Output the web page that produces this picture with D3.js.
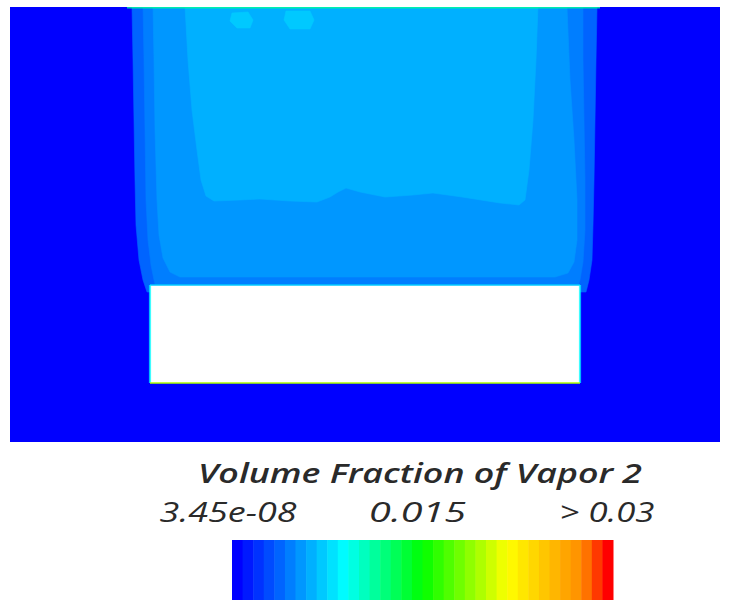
<!DOCTYPE html>
<html><head><meta charset="utf-8">
<script src="https://cdn.jsdelivr.net/npm/d3@7"></script>
<style>html,body{margin:0;padding:0;background:#fff;}svg{display:block;}</style>
</head><body>
<svg id="chart" width="753" height="600"></svg>
<script>
// ---------- data ----------
const legendTitle = "Volume Fraction of Vapor 2";
const colorDomain = [0, 0.03];                // Vapor 2 volume fraction range
const tickValues = [3.45e-8, 0.015, 0.03];
const tickLabels = ["3.45e-08", "0.015", "> 0.03"];
const nLevels = 36;

// physical field extent (mm), y upward
const fieldX = [0, 710];
const fieldY = [0, 435];
const backgroundValue = 3.45e-8;

// contour regions: boundary points [x, y] in mm, with the volume fraction inside
const plumeOuter = [[122,447],[122,435],[123,382],[124,322],[125,262],[126,217],[129,182],[133,162],[137,150],[576,150],[579,162],[582,182],[583,217],[584,262],[585,322],[586,382],[587,435],[587,447]];
const plumeOuterValue = 0.0038;
const plumeMid = [[133,447],[133,435],[134,382],[135,312],[136,242],[138,202],[141,177],[144,162],[147,150],[566,150],[570,162],[573,180],[575,212],[575,262],[574,322],[573,382],[573,435],[573,447]];
const plumeMidValue = 0.0046;
const plumeBody = [[143,447],[143,435],[144,382],[145,312],[147,242],[149,207],[153,184],[160,170],[170,165],[545,165],[558,169],[564,180],[567,202],[567,242],[564,302],[560,362],[557,435],[557,447]];
const plumeBodyValue = 0.0054;
const plumeCore = [[175,447],[175,435],[178,382],[182,332],[187,292],[191,262],[196,246],[204,241],[230,242],[250,243],[280,241],[307,240],[320,245],[328,250],[336,254],[350,250],[375,245],[403,247],[423,249],[452,245],[471,242],[490,239],[509,237],[515,242],[519,272],[523,322],[526,382],[528,435],[528,447]];
const plumeCoreValue = 0.0062;
const spotA = [[222,429],[238,430],[243,422],[240,414],[227,414],[220,421]];
const spotB = [[276,431],[300,431],[304,422],[300,413],[280,413],[274,422]];
const spotValue = 0.0071;
const inletLine = [[117,434.5],[590,434.5]];
const inletValue = 0.0114;

// solid body (not part of the fluid field)
const bodyX = [140, 570];
const bodyY = [59, 157];
const bodySideValue = 0.009;
const bodyBottomValue = 0.0195;
const bodyTopValue = 0.0075;

// ---------- layout ----------
const L = {
  plot: {x0: 10, x1: 720, y0: 7, y1: 442},
  bar: {x0: 232, x1: 613, y0: 540, y1: 600},
  labels: {x0: 228, x1: 607, y: 522, size: 27, widths: [137, 97, 95]},
  title: {x: 420, y: 483, size: 27, width: 444}
};
const FONT = "'Open Sans', 'DejaVu Sans', sans-serif";

// ---------- scales ----------
const svg = d3.select("#chart");
const x = d3.scaleLinear().domain(fieldX).range([L.plot.x0, L.plot.x1]);
const y = d3.scaleLinear().domain(fieldY).range([L.plot.y1, L.plot.y0]);

const ramp = d3.scaleLinear()
  .domain([0, 0.29, 0.5, 0.73, 0.93, 1])
  .range(["#0000ff", "#00ffff", "#00ff00", "#ffff00", "#ff8c00", "#ff0000"])
  .interpolate(d3.interpolateRgb);
const bandColors = d3.range(nLevels).map(i => ramp(i / (nLevels - 1)));
const color = d3.scaleQuantize().domain(colorDomain).range(bandColors);

svg.append("rect").attr("width", 753).attr("height", 600).attr("fill", "#ffffff");

svg.append("clipPath").attr("id", "plotclip").append("rect")
  .attr("x", x(fieldX[0])).attr("y", y(fieldY[1]))
  .attr("width", x(fieldX[1]) - x(fieldX[0])).attr("height", y(fieldY[0]) - y(fieldY[1]));

const g = svg.append("g").attr("clip-path", "url(#plotclip)");

g.append("rect")
  .attr("x", x(fieldX[0])).attr("y", y(fieldY[1]))
  .attr("width", x(fieldX[1]) - x(fieldX[0])).attr("height", y(fieldY[0]) - y(fieldY[1]))
  .attr("fill", color(backgroundValue));

const area = d3.line().x(d => x(d[0])).y(d => y(d[1])).curve(d3.curveLinearClosed);
const regions = [
  [plumeOuter, plumeOuterValue],
  [plumeMid, plumeMidValue],
  [plumeBody, plumeBodyValue],
  [plumeCore, plumeCoreValue],
  [spotA, spotValue],
  [spotB, spotValue]
];
g.selectAll("path.region").data(regions).join("path")
  .attr("class", "region")
  .attr("d", d => area(d[0]))
  .attr("fill", d => color(d[1]))
  .attr("stroke", d => color(d[1]))
  .attr("stroke-width", 0.6);

const seg = d3.line().x(d => x(d[0])).y(d => y(d[1]));
g.append("path").attr("d", seg(inletLine))
  .attr("stroke", color(inletValue)).attr("stroke-width", 2).attr("fill", "none").attr("opacity", 0.8);

// solid body
g.append("rect")
  .attr("x", x(bodyX[0])).attr("y", y(bodyY[1]))
  .attr("width", x(bodyX[1]) - x(bodyX[0])).attr("height", y(bodyY[0]) - y(bodyY[1]))
  .attr("fill", "#ffffff");
const bodyEdges = [
  [[[bodyX[0], bodyY[1]], [bodyX[1], bodyY[1]]], bodyTopValue],
  [[[bodyX[0], bodyY[0]], [bodyX[0], bodyY[1]]], bodySideValue],
  [[[bodyX[1], bodyY[0]], [bodyX[1], bodyY[1]]], bodySideValue],
  [[[bodyX[0], bodyY[0]], [bodyX[1], bodyY[0]]], bodyBottomValue]
];
g.selectAll("path.edge").data(bodyEdges).join("path")
  .attr("class", "edge")
  .attr("d", d => seg(d[0]))
  .attr("stroke", d => color(d[1]))
  .attr("stroke-width", 2.2)
  .attr("opacity", 0.75)
  .attr("fill", "none");

// ---------- legend ----------
const barX = d3.scaleLinear().domain(colorDomain).range([L.bar.x0, L.bar.x1]);
const bandEdges = d3.range(nLevels + 1).map(i => colorDomain[0] + (colorDomain[1] - colorDomain[0]) * i / nLevels);
svg.append("g").selectAll("rect").data(d3.range(nLevels)).join("rect")
  .attr("x", i => barX(bandEdges[i]))
  .attr("y", L.bar.y0)
  .attr("width", i => barX(bandEdges[i + 1]) - barX(bandEdges[i]) + 0.5)
  .attr("height", L.bar.y1 - L.bar.y0)
  .attr("fill", i => color((bandEdges[i] + bandEdges[i + 1]) / 2));

svg.append("text")
  .attr("x", L.title.x).attr("y", L.title.y)
  .attr("text-anchor", "middle")
  .attr("font-family", FONT)
  .attr("font-style", "italic")
  .attr("font-weight", 600)
  .attr("font-size", L.title.size)
  .attr("fill", "#2a2a2a")
  .attr("textLength", L.title.width)
  .attr("lengthAdjust", "spacingAndGlyphs")
  .text(legendTitle);

const labelX = d3.scaleLinear().domain([tickValues[0], tickValues[2]]).range([L.labels.x0, L.labels.x1]);
svg.append("g").selectAll("text").data(tickValues).join("text")
  .attr("x", d => labelX(d))
  .attr("y", L.labels.y)
  .attr("text-anchor", "middle")
  .attr("font-family", FONT)
  .attr("font-style", "italic")
  .attr("font-weight", 500)
  .attr("font-size", L.labels.size)
  .attr("fill", "#2a2a2a")
  .attr("textLength", (d, i) => L.labels.widths[i])
  .attr("lengthAdjust", "spacingAndGlyphs")
  .text((d, i) => tickLabels[i]);
</script>
</body></html>
